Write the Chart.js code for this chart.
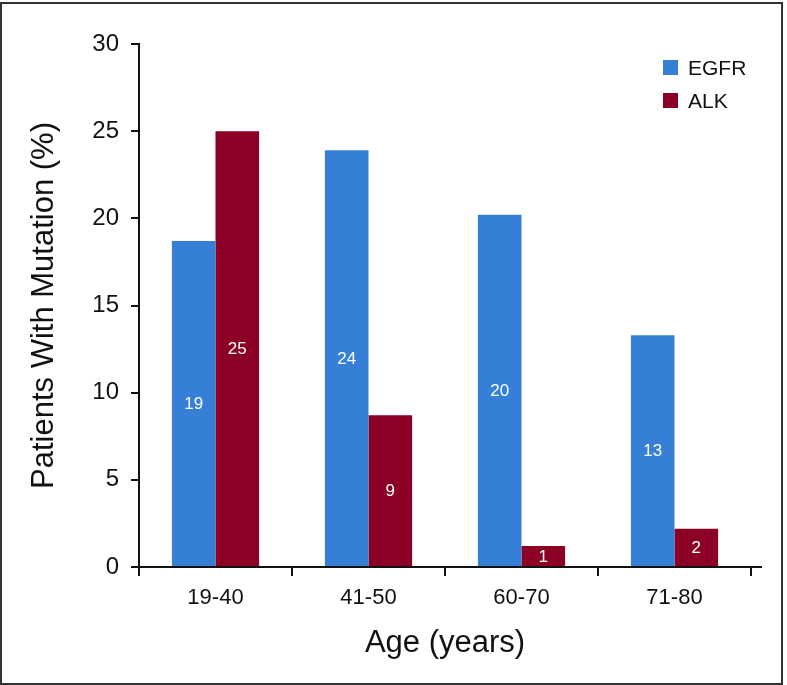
<!DOCTYPE html>
<html lang="en">
<head>
  <meta charset="UTF-8">
  <title>Patients With Mutation by Age</title>
  <script src="https://cdn.jsdelivr.net/npm/chart.js"></script>
  <style>
    body {
      margin: 0;
      padding: 0;
      background: #fff;
      font-family: 'Liberation Sans', Arial, sans-serif;
    }
    .wrap {
      position: relative;
      width: 787px;
      height: 685px;
      overflow: hidden;
    }
    .frame {
      position: absolute;
      left: 0;
      top: 2px;
      width: 783px;
      height: 683px;
      box-sizing: border-box;
      border: 2px solid #333;
      pointer-events: none;
    }
    .legend {
      position: absolute;
      left: 663px;
      top: 51px;
      font-size: 21px;
      color: #111;
    }
    .legend .item {
      display: flex;
      align-items: center;
      height: 33px;
    }
    .legend .swatch {
      width: 15px;
      height: 15px;
      margin-right: 10px;
    }
  </style>
</head>
<body>
  <div class="wrap">
    <canvas id="chart" width="787" height="685"></canvas>
    <div class="legend" id="legend"></div>
    <div class="frame"></div>
  </div>

  <script>
    // data
    const ageGroups = ['19-40', '41-50', '60-70', '71-80'];
    const egfrValues = [18.7, 23.9, 20.2, 13.3];
    const alkValues = [25.0, 8.7, 1.2, 2.2];
    const yTicks = [0, 5, 10, 15, 20, 25, 30];

    const egfrColor = '#357fd6';
    const alkColor = '#8b0024';
    const ink = '#111';

    // legend
    const legendEl = document.getElementById('legend');
    [['EGFR', egfrColor], ['ALK', alkColor]].forEach(function (item) {
      const row = document.createElement('div');
      row.className = 'item';
      row.innerHTML = '<div class="swatch" style="background:' + item[1] + '"></div><span>' + item[0] + '</span>';
      legendEl.appendChild(row);
    });

    // white value labels in the middle of each bar
    const barLabels = {
      id: 'barLabels',
      afterDatasetsDraw(chart) {
        const ctx = chart.ctx;
        ctx.save();
        ctx.fillStyle = '#fff';
        ctx.font = '17px "Liberation Sans", Arial, sans-serif';
        ctx.textAlign = 'center';
        ctx.textBaseline = 'middle';
        chart.data.datasets.forEach(function (ds, i) {
          chart.getDatasetMeta(i).data.forEach(function (bar, j) {
            ctx.fillText(String(Math.round(ds.data[j])), bar.x, (bar.y + bar.base) / 2 + 1);
          });
        });
        ctx.restore();
      }
    };

    // x axis line runs a little past the last tick
    const axisExtend = {
      id: 'axisExtend',
      afterDraw(chart) {
        const a = chart.chartArea;
        const ctx = chart.ctx;
        ctx.save();
        ctx.strokeStyle = ink;
        ctx.lineWidth = 2;
        ctx.beginPath();
        ctx.moveTo(a.right - 1, a.bottom);
        ctx.lineTo(a.right + 11, a.bottom);
        ctx.stroke();
        ctx.restore();
      }
    };

    const fontFamily = '"Liberation Sans", Arial, sans-serif';

    new Chart(document.getElementById('chart'), {
      type: 'bar',
      data: {
        labels: ageGroups,
        datasets: [
          { label: 'EGFR', data: egfrValues, backgroundColor: egfrColor },
          { label: 'ALK', data: alkValues, backgroundColor: alkColor }
        ]
      },
      options: {
        responsive: false,
        animation: false,
        layout: { padding: { left: 0, top: 44, right: 36, bottom: 0 } },
        datasets: { bar: { barPercentage: 1, categoryPercentage: 0.57 } },
        plugins: {
          legend: { display: false },
          tooltip: { enabled: false }
        },
        scales: {
          x: {
            afterFit(scale) { scale.height = 118; },
            grid: {
              offset: true,
              drawOnChartArea: false,
              drawTicks: true,
              tickLength: 9,
              lineWidth: 2,
              color: ink
            },
            border: { display: true, color: ink, width: 2 },
            ticks: {
              color: ink,
              padding: 9,
              font: { family: fontFamily, size: 22 }
            },
            title: {
              display: true,
              text: 'Age (years)',
              color: ink,
              padding: { top: 0, bottom: 23 },
              font: { family: fontFamily, size: 31 }
            }
          },
          y: {
            min: 0,
            max: 30,
            afterFit(scale) { scale.width = 139; },
            afterBuildTicks(scale) {
              scale.ticks = yTicks.map(function (v) { return { value: v }; });
            },
            grid: {
              drawOnChartArea: false,
              drawTicks: true,
              tickLength: 8,
              lineWidth: 2,
              color: ink
            },
            border: { display: true, color: ink, width: 2 },
            ticks: {
              color: ink,
              padding: 12,
              font: { family: fontFamily, size: 24 }
            },
            title: {
              display: true,
              text: 'Patients With Mutation (%)',
              color: ink,
              padding: { top: 26, bottom: 0 },
              font: { family: fontFamily, size: 31 }
            }
          }
        }
      },
      plugins: [barLabels, axisExtend]
    });
  </script>
</body>
</html>
